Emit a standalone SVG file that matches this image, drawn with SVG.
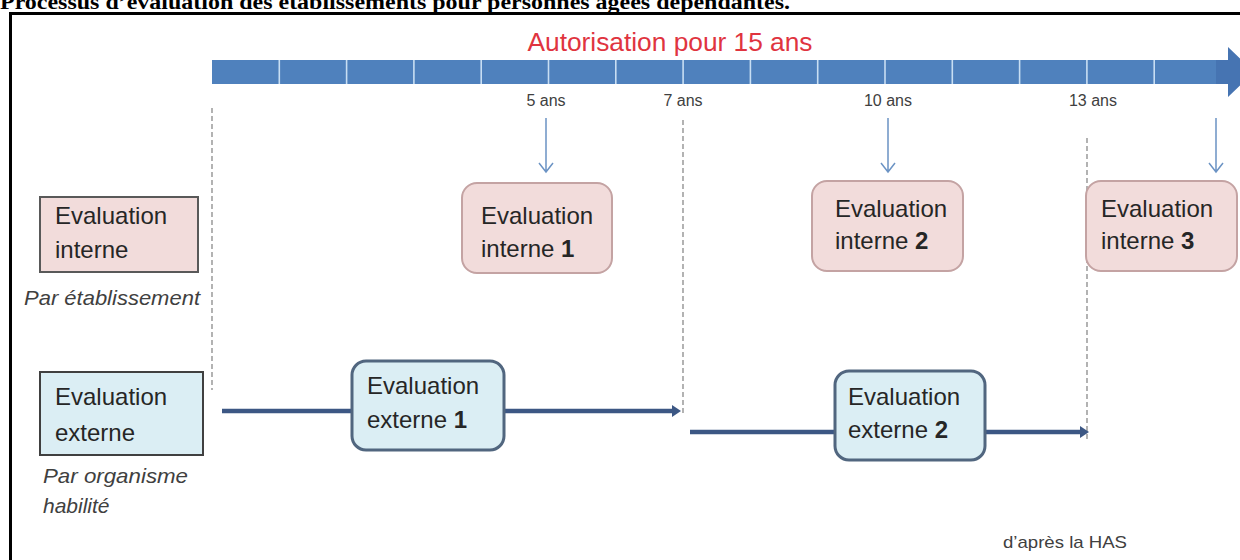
<svg xmlns="http://www.w3.org/2000/svg" width="1240" height="560" viewBox="0 0 1240 560">
<defs>
<style>
.box{font-family:"Liberation Sans",Arial,sans-serif;font-size:24px;fill:#262626}
.b{font-weight:bold}
.yr{font-family:"Liberation Sans",Arial,sans-serif;font-size:16px;fill:#404040;text-anchor:middle}
.it{font-family:"Liberation Sans",Arial,sans-serif;font-size:21px;font-style:italic;fill:#404040}
.pinkR{fill:#f2dcdb;stroke:#c4a3a3;stroke-width:2}
.blueR{fill:#dbeef4;stroke:#51667f;stroke-width:3}
.dash{stroke:#8a8a8a;stroke-width:1.3;stroke-dasharray:5 3;fill:none}
.down{stroke:#6b93c4;stroke-width:1.5;fill:none}
.conn{stroke:#3c5784;stroke-width:4.5;fill:none}
.div{stroke:#c8def3;stroke-width:1.6}
</style>
</defs>
<rect width="1240" height="560" fill="#ffffff"/>
<text x="0" y="9" font-family="'Liberation Serif','Times New Roman',serif" font-weight="bold" font-size="20" fill="#000" textLength="790" lengthAdjust="spacingAndGlyphs">Processus d’évaluation des établissements pour personnes âgées dépendantes.</text>
<rect x="10.5" y="13.5" width="1240" height="560" fill="none" stroke="#000" stroke-width="3"/>

<g id="timeline">
<text x="670" y="51" font-family="'Liberation Sans',Arial,sans-serif" font-size="25" fill="#e0343f" text-anchor="middle" textLength="285" lengthAdjust="spacingAndGlyphs">Autorisation pour 15 ans</text>
<rect x="212" y="60" width="1008" height="24" fill="#4f81bd"/>
<polygon points="1216,60 1228,60 1228,47 1254,72 1228,97 1228,84 1216,84" fill="#4674b2"/>
<g class="div">
<line x1="279.3" y1="60" x2="279.3" y2="84"/><line x1="346.6" y1="60" x2="346.6" y2="84"/>
<line x1="413.9" y1="60" x2="413.9" y2="84"/><line x1="481.2" y1="60" x2="481.2" y2="84"/>
<line x1="548.5" y1="60" x2="548.5" y2="84"/><line x1="615.8" y1="60" x2="615.8" y2="84"/>
<line x1="683.1" y1="60" x2="683.1" y2="84"/><line x1="750.4" y1="60" x2="750.4" y2="84"/>
<line x1="817.7" y1="60" x2="817.7" y2="84"/><line x1="885" y1="60" x2="885" y2="84"/>
<line x1="952.3" y1="60" x2="952.3" y2="84"/><line x1="1019.6" y1="60" x2="1019.6" y2="84"/>
<line x1="1086.9" y1="60" x2="1086.9" y2="84"/><line x1="1154.2" y1="60" x2="1154.2" y2="84"/>
</g>
<text class="yr" x="546" y="106">5 ans</text>
<text class="yr" x="683" y="106">7 ans</text>
<text class="yr" x="888" y="106">10 ans</text>
<text class="yr" x="1093" y="106">13 ans</text>
</g>

<g id="connectors">
<line class="dash" x1="212" y1="108" x2="212" y2="390"/>
<line class="dash" x1="683" y1="120" x2="683" y2="416"/>
<line class="dash" x1="1087" y1="138" x2="1087" y2="442"/>
<path class="down" d="M546,118 V172 M539,163 L546,172 L553,163"/>
<path class="down" d="M888,118 V172 M881,163 L888,172 L895,163"/>
<path class="down" d="M1216,118 V172 M1209,163 L1216,172 L1223,163"/>
<line class="conn" x1="222" y1="411" x2="352" y2="411"/>
<line class="conn" x1="504" y1="411" x2="674" y2="411"/>
<polygon points="672,405 681,411 672,417" fill="#3c5784"/>
<line class="conn" x1="690" y1="432" x2="835" y2="432"/>
<line class="conn" x1="985" y1="432" x2="1082" y2="432"/>
<polygon points="1080,426 1089,432 1080,438" fill="#3c5784"/>
</g>

<g id="legend-interne">
<rect x="40" y="197" width="158" height="75" fill="#f2dcdb" stroke="#595959" stroke-width="2"/>
<text class="box" x="55" y="224">Evaluation</text>
<text class="box" x="55" y="258">interne</text>
<text class="it" x="24" y="305" textLength="176" lengthAdjust="spacingAndGlyphs">Par établissement</text>
</g>

<g id="legend-externe">
<rect x="40" y="372" width="163" height="83" fill="#dbeef4" stroke="#404040" stroke-width="2"/>
<text class="box" x="55" y="405">Evaluation</text>
<text class="box" x="55" y="441">externe</text>
<text class="it" x="43" y="483" textLength="145" lengthAdjust="spacingAndGlyphs">Par organisme</text>
<text class="it" x="43" y="513">habilité</text>
</g>

<g id="interne1">
<rect class="pinkR" x="462" y="183" width="150" height="90" rx="15"/>
<text class="box" x="481" y="224">Evaluation</text>
<text class="box" x="481" y="257">interne <tspan class="b">1</tspan></text>
</g>

<g id="interne2">
<rect class="pinkR" x="812" y="181" width="151" height="90" rx="15"/>
<text class="box" x="835" y="217">Evaluation</text>
<text class="box" x="835" y="249">interne <tspan class="b">2</tspan></text>
</g>

<g id="interne3">
<rect class="pinkR" x="1086" y="181" width="151" height="90" rx="15"/>
<text class="box" x="1101" y="217">Evaluation</text>
<text class="box" x="1101" y="249">interne <tspan class="b">3</tspan></text>
</g>

<g id="externe1">
<rect class="blueR" x="352" y="361" width="152" height="89" rx="14"/>
<text class="box" x="367" y="394">Evaluation</text>
<text class="box" x="367" y="428">externe <tspan class="b">1</tspan></text>
</g>

<g id="externe2">
<rect class="blueR" x="835" y="371" width="150" height="89" rx="14"/>
<text class="box" x="848" y="405">Evaluation</text>
<text class="box" x="848" y="438">externe <tspan class="b">2</tspan></text>
</g>

<text x="1003" y="548" font-family="'Liberation Sans',Arial,sans-serif" font-size="17" fill="#404040" textLength="124" lengthAdjust="spacingAndGlyphs">d’après la HAS</text>
</svg>
